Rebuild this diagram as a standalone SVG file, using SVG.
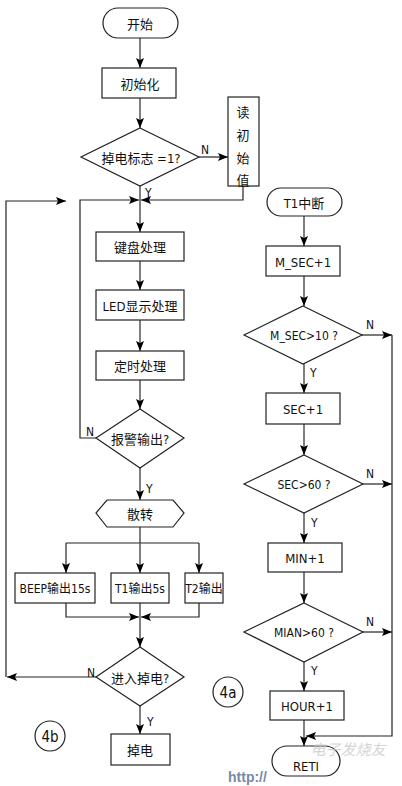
<svg xmlns="http://www.w3.org/2000/svg" width="402" height="786" viewBox="0 0 402 786">
<defs>
<marker id="arr" markerUnits="userSpaceOnUse" markerWidth="10" markerHeight="8" refX="10" refY="4" orient="auto">
<path d="M0,0 L10,4 L0,8 L2,4 z" fill="#000"/>
</marker>
<style>
.shape{fill:#fff;stroke:#222;stroke-width:1.2}
.conn{fill:none;stroke:#555;stroke-width:1.5}
.thin{fill:none;stroke:#222;stroke-width:1.2}
text{font-family:"DejaVu Sans Condensed","Noto Sans CJK SC",sans-serif;font-size:13px;fill:#111;text-anchor:middle;dominant-baseline:central}
.lbl{font-size:12px;text-anchor:start}
.circ{fill:none;stroke:#222;stroke-width:1.2}
</style>
</defs>
<rect width="402" height="786" fill="#fff"/>

<g id="connectors">
<line class="conn" x1="140" y1="38" x2="140" y2="68" marker-end="url(#arr)"/>
<line class="conn" x1="140" y1="98" x2="140" y2="128" marker-end="url(#arr)"/>
<line class="thin" x1="199" y1="157" x2="228" y2="157" marker-end="url(#arr)"/>
<polyline class="thin" points="243,186 243,200 141,200" marker-end="url(#arr)"/>
<line class="conn" x1="140" y1="186" x2="140" y2="232" marker-end="url(#arr)"/>
<polyline class="thin" points="96,438 80,438 80,200 139,200" marker-end="url(#arr)"/>
<line class="conn" x1="140" y1="261" x2="140" y2="290" marker-end="url(#arr)"/>
<line class="conn" x1="140" y1="320" x2="140" y2="351" marker-end="url(#arr)"/>
<line class="conn" x1="140" y1="380" x2="140" y2="409" marker-end="url(#arr)"/>
<line class="conn" x1="140" y1="468" x2="140" y2="500" marker-end="url(#arr)"/>
<line class="conn" x1="140" y1="527" x2="140" y2="543"/>
<line class="thin" x1="66" y1="543" x2="199" y2="543"/>
<line class="thin" x1="66" y1="543" x2="66" y2="573" marker-end="url(#arr)"/>
<line class="conn" x1="140" y1="543" x2="140" y2="573" marker-end="url(#arr)"/>
<line class="thin" x1="199" y1="543" x2="199" y2="573" marker-end="url(#arr)"/>
<polyline class="thin" points="66,603 66,617 139,617" marker-end="url(#arr)"/>
<polyline class="thin" points="199,603 199,617 141,617" marker-end="url(#arr)"/>
<line class="conn" x1="140" y1="603" x2="140" y2="647" marker-end="url(#arr)"/>
<line class="thin" x1="96" y1="677" x2="7" y2="677" marker-end="url(#arr)"/>
<polyline class="thin" points="6,677 6,201 66,201" marker-end="url(#arr)"/>
<line class="conn" x1="140" y1="706" x2="140" y2="734" marker-end="url(#arr)"/>

<line class="conn" x1="304" y1="216" x2="304" y2="246" marker-end="url(#arr)"/>
<line class="conn" x1="304" y1="276" x2="304" y2="306" marker-end="url(#arr)"/>
<line class="thin" x1="362" y1="335" x2="392" y2="335" marker-end="url(#arr)"/>
<line class="conn" x1="304" y1="364" x2="304" y2="393" marker-end="url(#arr)"/>
<line class="conn" x1="304" y1="424" x2="304" y2="455" marker-end="url(#arr)"/>
<line class="thin" x1="363" y1="484" x2="392" y2="484" marker-end="url(#arr)"/>
<line class="conn" x1="304" y1="513" x2="304" y2="543" marker-end="url(#arr)"/>
<line class="conn" x1="304" y1="572" x2="304" y2="603" marker-end="url(#arr)"/>
<line class="thin" x1="363" y1="632" x2="392" y2="632" marker-end="url(#arr)"/>
<line class="conn" x1="304" y1="662" x2="304" y2="691" marker-end="url(#arr)"/>
<line class="conn" x1="304" y1="720" x2="304" y2="746" marker-end="url(#arr)"/>
<polyline class="thin" points="392,335 392,736 306,736" marker-end="url(#arr)"/>

<text class="lbl" x="201" y="150">N</text>
<text class="lbl" x="145" y="193">Y</text>
<text class="lbl" x="86" y="432">N</text>
<text class="lbl" x="146" y="489">Y</text>
<text class="lbl" x="87" y="673">N</text>
<text class="lbl" x="147" y="722">Y</text>
<text class="lbl" x="366" y="325">N</text>
<text class="lbl" x="310" y="373">Y</text>
<text class="lbl" x="366" y="474">N</text>
<text class="lbl" x="311" y="523">Y</text>
<text class="lbl" x="366" y="622">N</text>
<text class="lbl" x="311" y="671">Y</text>
</g>

<g id="start"><rect class="shape" x="103" y="8" width="75" height="30" rx="15"/><text x="140" y="24">开始</text></g>
<g id="init"><rect class="shape" x="102" y="68" width="74" height="30"/><text x="140" y="84">初始化</text></g>
<g id="powerflag"><polygon class="shape" points="140,128 199,157 140,186 81,157"/><text x="141" y="158">掉电标志 =1?</text></g>
<g id="readinit"><rect class="shape" x="228" y="97" width="31" height="89"/>
<text x="243" y="112">读</text><text x="243" y="135">初</text><text x="243" y="158">始</text><text x="243" y="180">值</text></g>
<g id="key"><rect class="shape" x="96" y="232" width="88" height="29"/><text x="140" y="247">键盘处理</text></g>
<g id="led"><rect class="shape" x="96" y="290" width="88" height="30"/><text x="140" y="306">LED显示处理</text></g>
<g id="timer"><rect class="shape" x="96" y="351" width="88" height="29"/><text x="140" y="366">定时处理</text></g>
<g id="alarm"><polygon class="shape" points="140,409 184,438 140,468 96,438"/><text x="140" y="439">报警输出?</text></g>
<g id="dispatch"><polygon class="shape" points="107,500 173,500 184,513 173,527 107,527 96,513"/><text x="140" y="514">散转</text></g>
<g id="beep"><rect class="shape" x="15" y="573" width="80" height="30"/><text x="55" y="589" style="font-size:12px">BEEP输出15s</text></g>
<g id="t1out"><rect class="shape" x="111" y="573" width="58" height="30"/><text x="140" y="589" style="font-size:12px">T1输出5s</text></g>
<g id="t2out"><rect class="shape" x="185" y="573" width="38" height="30"/><text x="204" y="589" style="font-size:12px">T2输出</text></g>
<g id="enterpd"><polygon class="shape" points="140,647 184,677 140,706 96,677"/><text x="140" y="678">进入掉电?</text></g>
<g id="powerdown"><rect class="shape" x="111" y="734" width="59" height="31"/><text x="140" y="750">掉电</text></g>
<g id="label4b"><circle class="circ" cx="50" cy="736" r="15"/><text x="50" y="737" style="font-size:15px">4b</text></g>

<g id="t1int"><rect class="shape" x="267" y="188" width="75" height="28" rx="14"/><text x="304" y="203">T1中断</text></g>
<g id="msec"><rect class="shape" x="266" y="246" width="74" height="30"/><text x="303" y="262">M_SEC+1</text></g>
<g id="msecq"><polygon class="shape" points="303,306 362,335 303,364 244,335"/><text x="304" y="336" style="font-size:12px">M_SEC&gt;10 ?</text></g>
<g id="sec"><rect class="shape" x="266" y="393" width="74" height="31"/><text x="303" y="409">SEC+1</text></g>
<g id="secq"><polygon class="shape" points="304,455 363,484 304,513 244,484"/><text x="304" y="485" style="font-size:12px">SEC&gt;60 ?</text></g>
<g id="min"><rect class="shape" x="268" y="543" width="74" height="29"/><text x="305" y="558">MIN+1</text></g>
<g id="minq"><polygon class="shape" points="304,603 363,632 304,662 244,632"/><text x="304" y="633" style="font-size:12px">MIAN&gt;60 ?</text></g>
<g id="hour"><rect class="shape" x="270" y="691" width="74" height="29"/><text x="307" y="706">HOUR+1</text></g>
<g id="reti"><rect class="shape" x="272" y="746" width="68" height="30" rx="15"/><text x="306" y="766">RETI</text></g>
<g id="label4a"><circle class="circ" cx="228" cy="692" r="15"/><text x="228" y="693" style="font-size:15px">4a</text></g>

<g id="watermark" opacity="0.75">
<text x="348" y="748" style="font-family:'Noto Sans CJK SC',sans-serif;font-size:15px;fill:#c8c8c8;font-style:italic">电子发烧友</text>
<text x="228" y="777" style="font-family:'Liberation Sans',sans-serif;font-size:14px;font-weight:bold;fill:#4a6288;text-anchor:start">http://</text>
</g>
</svg>
